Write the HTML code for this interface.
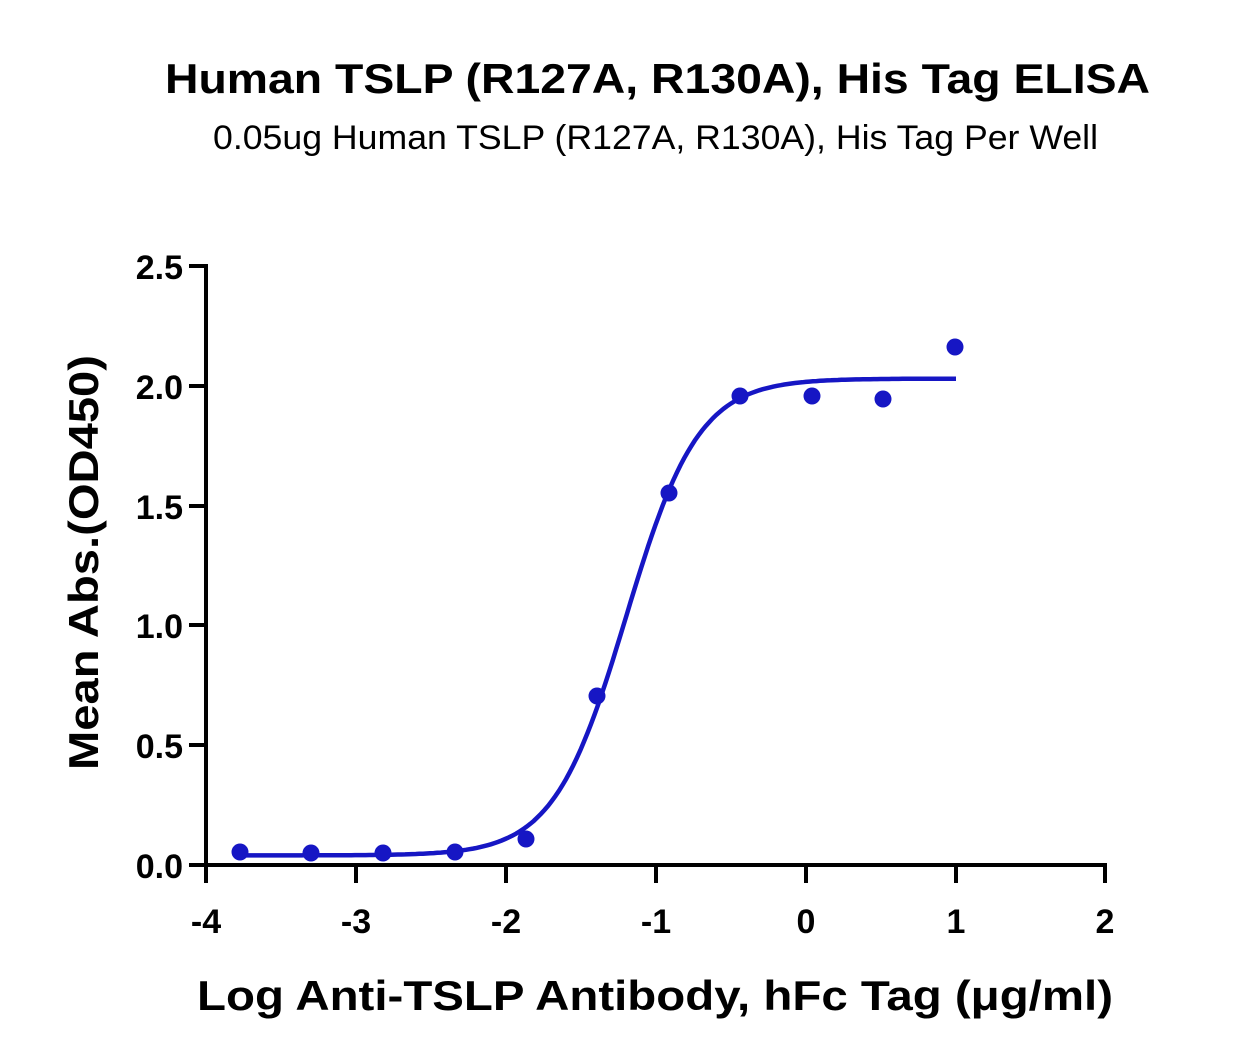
<!DOCTYPE html>
<html><head><meta charset="utf-8"><style>
body{margin:0;background:#fff;}
svg{display:block;font-family:"Liberation Sans",sans-serif;}
</style></head><body>
<svg id="s" width="1237" height="1064" viewBox="0 0 1237 1064">
<text x="165" y="93" textLength="985" lengthAdjust="spacingAndGlyphs" font-size="42" font-weight="bold" fill="#000">Human TSLP (R127A, R130A), His Tag ELISA</text>
<text x="213" y="149" textLength="885" lengthAdjust="spacingAndGlyphs" font-size="34" fill="#000">0.05ug Human TSLP (R127A, R130A), His Tag Per Well</text>
<g stroke="#000" stroke-width="4" fill="none">
<line x1="206" y1="264" x2="206" y2="867"/>
<line x1="204" y1="865" x2="1107" y2="865"/>
<line x1="189" y1="266" x2="206" y2="266"/>
<line x1="189" y1="386" x2="206" y2="386"/>
<line x1="189" y1="506" x2="206" y2="506"/>
<line x1="189" y1="625" x2="206" y2="625"/>
<line x1="189" y1="745" x2="206" y2="745"/>
<line x1="189" y1="865" x2="206" y2="865"/>
<line x1="206" y1="865" x2="206" y2="883"/>
<line x1="356" y1="865" x2="356" y2="883"/>
<line x1="506" y1="865" x2="506" y2="883"/>
<line x1="656" y1="865" x2="656" y2="883"/>
<line x1="806" y1="865" x2="806" y2="883"/>
<line x1="956" y1="865" x2="956" y2="883"/>
<line x1="1105" y1="865" x2="1105" y2="883"/>
</g>
<g font-size="34" font-weight="bold" text-anchor="end" fill="#000">
<text x="183" y="279">2.5</text><text x="183" y="399">2.0</text><text x="183" y="519">1.5</text>
<text x="183" y="638">1.0</text><text x="183" y="758">0.5</text><text x="183" y="878">0.0</text>
</g>
<g font-size="34" font-weight="bold" text-anchor="middle" fill="#000">
<text x="206" y="933">-4</text><text x="356" y="933">-3</text><text x="506" y="933">-2</text>
<text x="656" y="933">-1</text><text x="806" y="933">0</text><text x="956" y="933">1</text><text x="1105" y="933">2</text>
</g>
<text x="197" y="1010" textLength="916" lengthAdjust="spacingAndGlyphs" font-size="42" font-weight="bold">Log Anti-TSLP Antibody, hFc Tag (μg/ml)</text>
<text transform="translate(98,770) rotate(-90)" textLength="415" lengthAdjust="spacingAndGlyphs" font-size="42" font-weight="bold">Mean Abs.(OD450)</text>
<path id="c" fill="none" stroke="#1616c4" stroke-width="4.5"/>
<g fill="#1616c4">
<circle cx="240" cy="852" r="8.5"/><circle cx="311" cy="853" r="8.5"/><circle cx="383" cy="853" r="8.5"/>
<circle cx="455" cy="852" r="8.5"/><circle cx="526" cy="839" r="8.5"/><circle cx="597" cy="696" r="8.5"/>
<circle cx="669" cy="493" r="8.5"/><circle cx="740" cy="396" r="8.5"/><circle cx="812" cy="396" r="8.5"/>
<circle cx="883" cy="399" r="8.5"/><circle cx="955" cy="347" r="8.5"/>
</g>
<script>
var d="";for(var i=0;i<=200;i++){var x=-3.77+i*(4.77/200);var y=0.04+1.99/(1+Math.pow(10,(-1.2-x)*1.8));
var px=206+(x+4)*150, py=865-y*239.6; d+=(i?"L":"M")+px.toFixed(1)+","+py.toFixed(1);}
document.getElementById("c").setAttribute("d",d);
</script>
</svg>
</body></html>
